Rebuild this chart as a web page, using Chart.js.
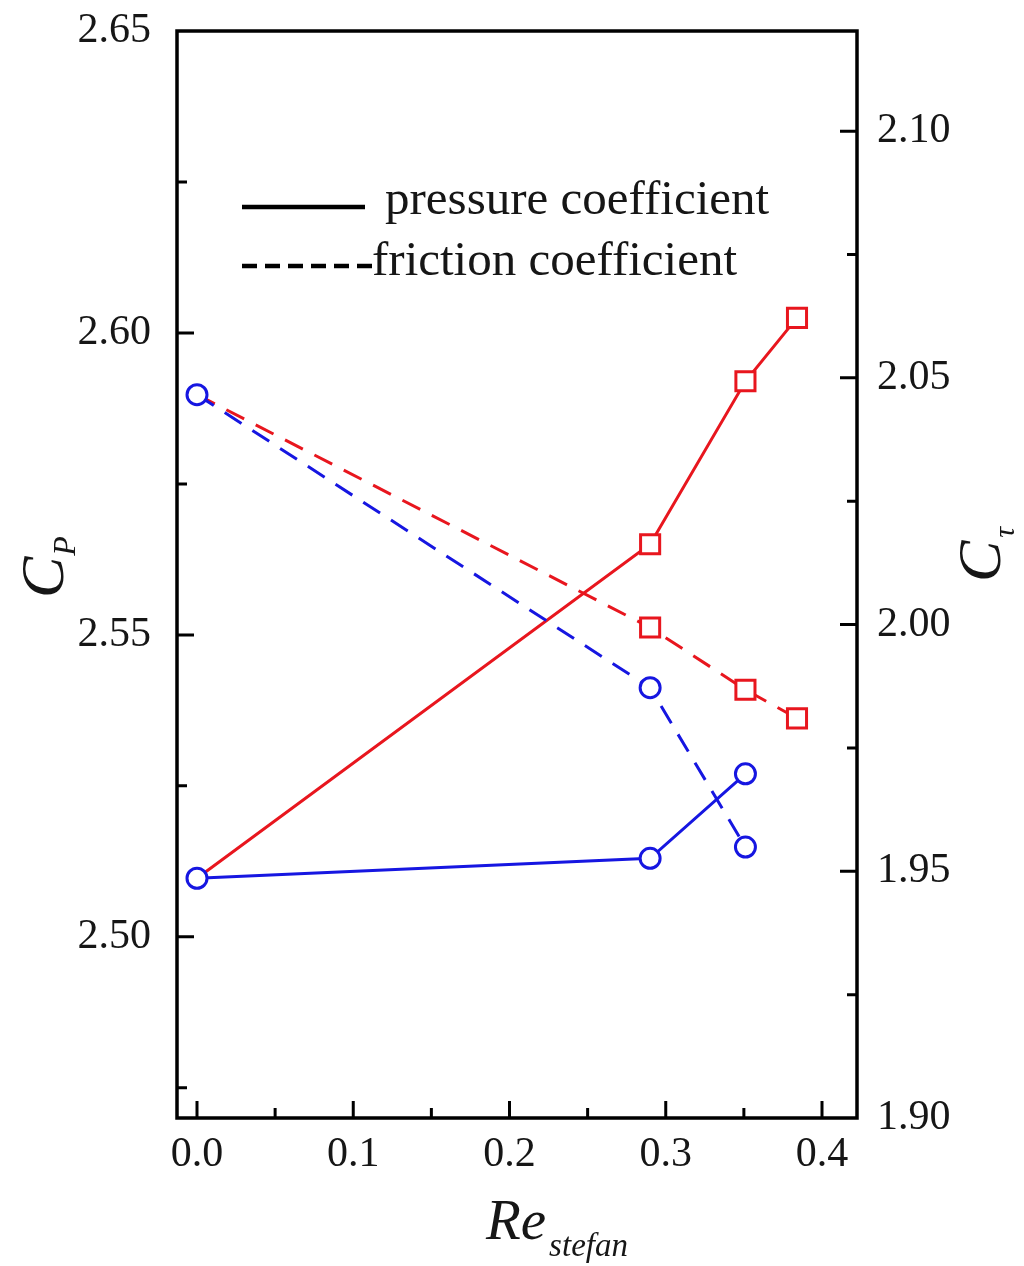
<!DOCTYPE html>
<html>
<head>
<meta charset="utf-8">
<style>
  html, body { margin: 0; padding: 0; background: #ffffff; }
  #wrap { width: 1024px; height: 1266px; position: relative; }
  canvas { display: block; }
</style>
<script src="https://cdn.jsdelivr.net/npm/chart.js@4.4.1/dist/chart.umd.min.js"></script>
</head>
<body>
<div id="wrap"><canvas id="chart" width="1024" height="1266"></canvas></div>
<script>
// Stefan Reynolds number values
const reStefan = [0.0, 0.29, 0.351, 0.384];
// Pressure coefficient C_P (left axis)
const cpRed  = [2.5097, 2.565, 2.592, 2.6025];
const cpBlue = [2.5097, 2.513, 2.527];
// Friction coefficient C_τ (right axis)
const cfRed  = [2.0466, 1.9994, 1.9868, 1.981];
const cfBlue = [2.0466, 1.9872, 1.9549];
// Tick labels
const xTicks  = [0.0, 0.1, 0.2, 0.3, 0.4];
const cpTicks = [2.50, 2.55, 2.60, 2.65];
const cfTicks = [1.90, 1.95, 2.00, 2.05, 2.10];
const legendLabels = ['pressure coefficient', 'friction coefficient'];

const RED = 'rgb(232,22,30)';
const BLUE = 'rgb(22,22,225)';
const SERIF = '"Liberation Serif", "DejaVu Serif", serif';
const INK = '#161616';

function pts(xs, ys) { return ys.map((y, i) => ({ x: xs[i], y: y })); }

const tickFont = { family: SERIF, size: 42 };

// Frame, inward ticks, axis titles and legend
const decorations = {
  id: 'decorations',
  afterDraw(chart) {
    const ctx = chart.ctx;
    const a = chart.chartArea;
    const sx = chart.scales.x, sl = chart.scales.cp, sr = chart.scales.cf;
    ctx.save();
    ctx.strokeStyle = '#000';
    ctx.lineWidth = 3.5;
    ctx.strokeRect(a.left, a.top, a.right - a.left, a.bottom - a.top);
    ctx.lineWidth = 3;
    ctx.beginPath();
    // x ticks (major every 0.1, minor every 0.05)
    for (let k = 0; k <= 8; k++) {
      const v = k * 0.05;
      const px = sx.getPixelForValue(v);
      const len = k % 2 === 0 ? 17 : 10;
      ctx.moveTo(px, a.bottom); ctx.lineTo(px, a.bottom - len);
    }
    // left ticks
    for (let k = 0; k <= 7; k++) {
      const v = 2.475 + k * 0.025;
      const py = sl.getPixelForValue(v);
      if (py < a.top + 2) continue;
      const len = k % 2 === 1 ? 17 : 10;
      ctx.moveTo(a.left, py); ctx.lineTo(a.left + len, py);
    }
    // right ticks
    for (let k = 0; k <= 8; k++) {
      const v = 1.90 + k * 0.025;
      const py = sr.getPixelForValue(v);
      if (py > a.bottom - 2) continue;
      const len = k % 2 === 0 ? 17 : 10;
      ctx.moveTo(a.right, py); ctx.lineTo(a.right - len, py);
    }
    ctx.stroke();

    ctx.fillStyle = INK;
    ctx.textBaseline = 'alphabetic';
    ctx.textAlign = 'left';

    // x axis title: Re_stefan
    ctx.font = 'italic 57px ' + SERIF;
    ctx.fillText('Re', 486, 1239);
    const reW = ctx.measureText('Re').width;
    ctx.font = 'italic 33px ' + SERIF;
    ctx.fillText('stefan', 486 + reW + 3, 1256);

    // left axis title: C_P
    ctx.save();
    ctx.translate(63, 598);
    ctx.rotate(-Math.PI / 2);
    ctx.font = 'italic 62px ' + SERIF;
    ctx.fillText('C', 0, 0);
    const cW = ctx.measureText('C').width;
    ctx.font = 'italic 32px ' + SERIF;
    ctx.fillText('P', cW + 1, 12);
    ctx.restore();

    // right axis title: C_τ
    ctx.save();
    ctx.translate(1000, 582);
    ctx.rotate(-Math.PI / 2);
    ctx.font = 'italic 62px ' + SERIF;
    ctx.fillText('C', 0, 0);
    const cW2 = ctx.measureText('C').width;
    ctx.font = 'italic 30px ' + SERIF;
    ctx.fillText('τ', cW2 + 3, 14);
    ctx.restore();

    // legend
    ctx.strokeStyle = '#000';
    ctx.lineWidth = 4.5;
    ctx.beginPath();
    ctx.moveTo(242, 207); ctx.lineTo(365, 207);
    ctx.stroke();
    ctx.setLineDash([15, 8]);
    ctx.beginPath();
    ctx.moveTo(242, 266); ctx.lineTo(372, 266);
    ctx.stroke();
    ctx.setLineDash([]);
    ctx.font = '49px ' + SERIF;
    ctx.fillText(legendLabels[0], 385, 214);
    ctx.fillText(legendLabels[1], 372, 275);
    ctx.restore();
  }
};

function noEdgePadding(s) { s.paddingTop = 0; s.paddingBottom = 0; }

new Chart(document.getElementById('chart'), {
  type: 'line',
  data: {
    datasets: [
      {
        label: 'blue pressure', data: pts(reStefan, cpBlue), yAxisID: 'cp',
        borderColor: BLUE, borderWidth: 3, pointStyle: 'circle', pointRadius: 10,
        pointBorderColor: BLUE, pointBackgroundColor: '#fff', pointBorderWidth: 3
      },
      {
        label: 'blue friction', data: pts(reStefan, cfBlue), yAxisID: 'cf',
        borderColor: BLUE, borderWidth: 3, borderDash: [20, 13], pointStyle: 'circle', pointRadius: 10,
        pointBorderColor: BLUE, pointBackgroundColor: '#fff', pointBorderWidth: 3
      },
      {
        label: 'red pressure', data: pts(reStefan, cpRed), yAxisID: 'cp',
        borderColor: RED, borderWidth: 3, pointStyle: 'rect', pointRadius: [0, 13.5, 13.5, 13.5],
        pointBorderColor: RED, pointBackgroundColor: '#fff', pointBorderWidth: 3
      },
      {
        label: 'red friction', data: pts(reStefan, cfRed), yAxisID: 'cf',
        borderColor: RED, borderWidth: 3, borderDash: [20, 13], pointStyle: 'rect', pointRadius: [0, 13.5, 13.5, 13.5],
        pointBorderColor: RED, pointBackgroundColor: '#fff', pointBorderWidth: 3
      }
    ]
  },
  options: {
    responsive: false,
    animation: false,
    devicePixelRatio: 1,
    layout: { padding: { top: 31, left: 0, right: 0, bottom: 0 } },
    plugins: { legend: { display: false }, tooltip: { enabled: false } },
    elements: { line: { tension: 0 } },
    scales: {
      x: {
        type: 'linear', position: 'bottom', min: -0.0128, max: 0.4224,
        grid: { display: false, drawTicks: false }, border: { display: false },
        ticks: { font: tickFont, color: INK, padding: 12, autoSkip: false, maxRotation: 0,
                 callback: v => v.toFixed(1) },
        afterBuildTicks: s => { s.ticks = xTicks.map(v => ({ value: v })); },
        afterFit: s => { s.height = 148; }
      },
      cp: {
        type: 'linear', position: 'left', min: 2.470, max: 2.650,
        grid: { display: false, drawTicks: false }, border: { display: false },
        ticks: { font: tickFont, color: INK, padding: 26, autoSkip: false,
                 callback: v => v.toFixed(2) },
        afterBuildTicks: s => { s.ticks = cpTicks.map(v => ({ value: v })); },
        afterFit: s => { s.width = 177; noEdgePadding(s); }
      },
      cf: {
        type: 'linear', position: 'right', min: 1.90, max: 2.1203,
        grid: { display: false, drawTicks: false }, border: { display: false },
        ticks: { font: tickFont, color: INK, padding: 20, autoSkip: false,
                 callback: v => v.toFixed(2) },
        afterBuildTicks: s => { s.ticks = cfTicks.map(v => ({ value: v })); },
        afterFit: s => { s.width = 167; noEdgePadding(s); }
      }
    }
  },
  plugins: [decorations]
});
</script>
</body>
</html>
